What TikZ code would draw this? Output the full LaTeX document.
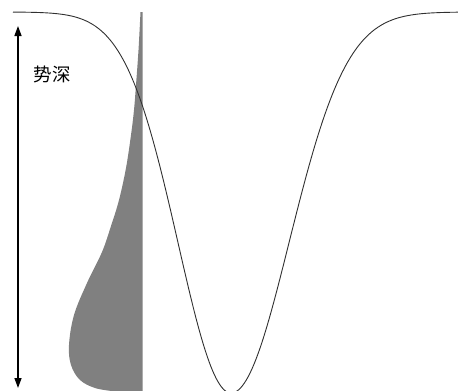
\documentclass[tikz,border=0pt]{standalone}
\usepackage{fontspec}
\newfontfamily\cjk{Noto Sans CJK SC}
\usetikzlibrary{arrows.meta}
\definecolor{fillgray}{HTML}{808080}
\definecolor{curvegray}{HTML}{303030}
\tikzset{
  wellcurve/.style={draw=curvegray, line width=0.9pt, line join=round},
  deptharrow/.style={draw=black, line width=1.4pt, {Triangle[length=10pt,width=7pt]}-{Triangle[length=10pt,width=7pt]}},
  labeltext/.style={font=\cjk\fontsize{18.5pt}{20pt}\selectfont, inner sep=0pt}
}
\begin{document}
\begin{tikzpicture}[x=1pt,y=-1pt]
\useasboundingbox (0,0) rectangle (458,391);
% shaded distribution
\fill[fillgray] plot[smooth, tension=0.6] coordinates {(140.5,12) (138.5,50) (136,85) (134,110) (131,135) (126,168) (119,200) (111,226) (102,252) (87,283) (74,315) (69,345) (71,365) (80,380) (95,388) (112,391)} -- (142.5,391) -- (142.5,12) -- cycle;
% potential curve
\draw[wellcurve] plot[domain=13:231, samples=120] (\x, {12+381*exp(-((\x-231)/74.8)^2)})
  -- plot[domain=231:458, samples=120] (\x, {12+381*exp(-((\x-231)/81.9)^2)});
% depth arrow
\coordinate (atop) at (18,26);
\coordinate (abot) at (18,388);
\draw[deptharrow] (abot) -- (atop);
\node[labeltext] (lbl) at (52,74) {势深};
\end{tikzpicture}
\end{document}
